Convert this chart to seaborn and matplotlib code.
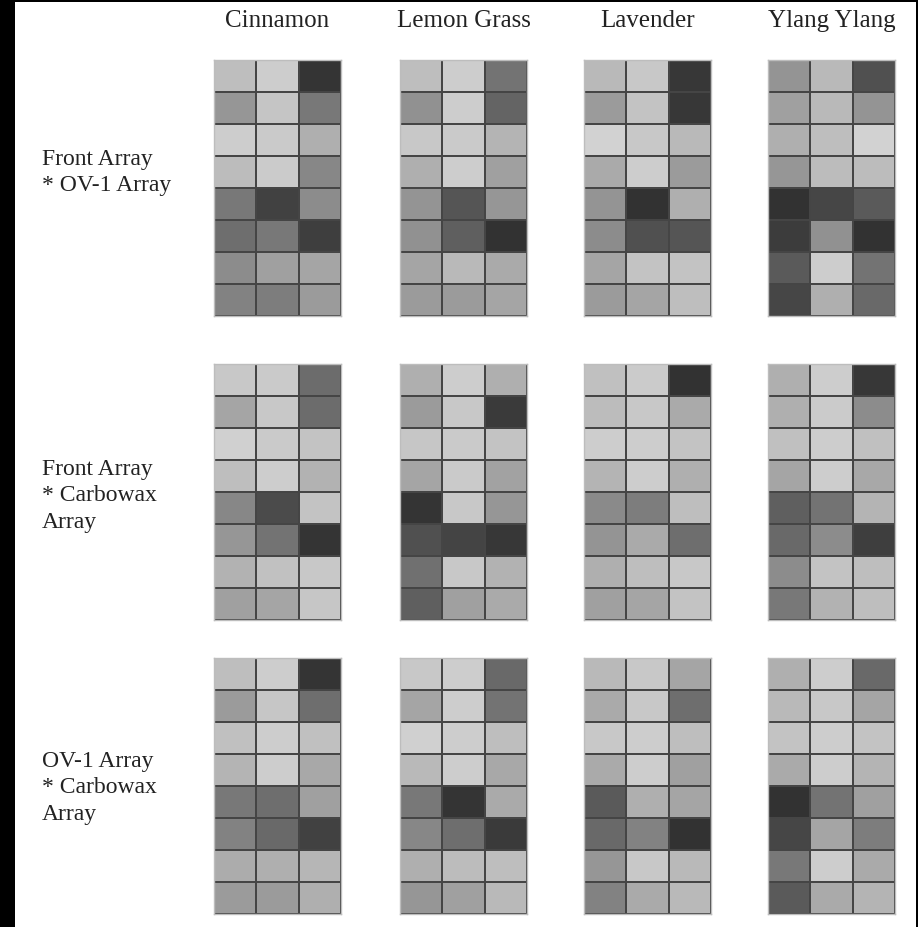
import numpy as np
import matplotlib
matplotlib.use("Agg")
import matplotlib.pyplot as plt
from matplotlib.patches import Rectangle
import seaborn as sns

# Column (essential oil) and row (array pairing) labels
oils = ["Cinnamon", "Lemon Grass", "Lavender", "Ylang Ylang"]
pairings = ["Front Array\n* OV-1 Array",
            "Front Array\n* Carbowax\nArray",
            "OV-1 Array\n* Carbowax\nArray"]

# Gray-level response maps (0 = black, 255 = white), 8 sensors x 3 channels
front_ov1_cinnamon = [[190, 205, 52], [150, 197, 120], [205, 202, 175], [188, 203, 135],
                      [120, 65, 140], [110, 120, 62], [140, 160, 165], [130, 125, 155]]
front_ov1_lemongrass = [[190, 205, 115], [145, 205, 100], [200, 202, 180], [175, 205, 160],
                        [148, 85, 150], [145, 95, 50], [165, 185, 170], [155, 155, 165]]
front_ov1_lavender = [[185, 200, 55], [155, 195, 55], [210, 200, 185], [170, 205, 155],
                      [148, 50, 175], [140, 80, 85], [165, 195, 195], [155, 165, 190]]
front_ov1_ylang = [[148, 185, 80], [160, 185, 148], [175, 190, 210], [150, 188, 188],
                   [50, 70, 90], [60, 145, 50], [90, 205, 115], [70, 175, 105]]

front_cw_cinnamon = [[200, 202, 108], [165, 200, 108], [208, 202, 195], [190, 205, 178],
                     [135, 75, 195], [150, 115, 52], [178, 193, 200], [160, 165, 198]]
front_cw_lemongrass = [[175, 205, 175], [155, 200, 58], [198, 202, 195], [165, 202, 162],
                       [52, 200, 150], [80, 68, 55], [112, 200, 178], [95, 160, 170]]
front_cw_lavender = [[192, 203, 50], [188, 200, 170], [205, 205, 195], [180, 205, 175],
                     [138, 125, 190], [148, 170, 110], [175, 190, 200], [160, 165, 195]]
front_cw_ylang = [[175, 205, 55], [175, 203, 140], [192, 205, 192], [165, 205, 168],
                  [95, 115, 180], [105, 140, 62], [140, 195, 190], [120, 178, 190]]

ov1_cw_cinnamon = [[190, 205, 52], [155, 198, 110], [192, 205, 192], [180, 205, 168],
                   [120, 110, 160], [130, 105, 65], [172, 175, 182], [155, 155, 175]]
ov1_cw_lemongrass = [[200, 205, 105], [165, 205, 115], [208, 205, 190], [185, 205, 168],
                     [120, 52, 170], [135, 110, 58], [175, 188, 190], [150, 160, 185]]
ov1_cw_lavender = [[185, 200, 165], [170, 200, 110], [200, 205, 190], [170, 205, 160],
                   [90, 175, 165], [105, 130, 50], [150, 200, 185], [130, 170, 185]]
ov1_cw_ylang = [[175, 205, 105], [185, 200, 165], [195, 205, 195], [170, 205, 180],
                [50, 115, 160], [70, 165, 125], [120, 205, 170], [90, 170, 180]]

panels = [
    [front_ov1_cinnamon, front_ov1_lemongrass, front_ov1_lavender, front_ov1_ylang],
    [front_cw_cinnamon, front_cw_lemongrass, front_cw_lavender, front_cw_ylang],
    [ov1_cw_cinnamon, ov1_cw_lemongrass, ov1_cw_lavender, ov1_cw_ylang],
]

W, H = 918, 927
fig = plt.figure(figsize=(W / 100, H / 100), dpi=100, facecolor="black")

# white page area, kept behind the heatmaps
fig.patches.append(Rectangle((15 / W, 0), (916 - 15) / W, (H - 2) / H,
                             transform=fig.transFigure, facecolor="white",
                             edgecolor="none", zorder=-10))

col_left = [214, 400, 584, 768]
row_top = [60, 364, 658]
map_w, map_h = 127, 256
label_top = [149, 459, 751]

serif = ["Liberation Serif", "DejaVu Serif"]

for r, row in enumerate(panels):
    for c, data in enumerate(row):
        ax = fig.add_axes([col_left[c] / W, 1 - (row_top[r] + map_h) / H,
                           map_w / W, map_h / H])
        sns.heatmap(np.array(data), cmap="gray", vmin=0, vmax=255, cbar=False,
                    linewidths=1.2, linecolor="#454545", square=False, ax=ax)
        ax.set_xticks([])
        ax.set_yticks([])
        ax.set_xlabel("")
        ax.set_ylabel("")
        for s in ax.spines.values():
            s.set_visible(True)
            s.set_color("#bdbdbd")
            s.set_linewidth(1.0)
    fig.text(42 / W, 1 - label_top[r] / H, pairings[r], ha="left", va="top",
             fontsize=17, family=serif, color="#222222", linespacing=1.34)

for c, name in enumerate(oils):
    fig.text((col_left[c] + map_w / 2) / W, 1 - 21 / H, name, ha="center",
             va="center", fontsize=18, family=serif, color="#222222")

fig.savefig("out.png", dpi=100, facecolor=fig.get_facecolor())
